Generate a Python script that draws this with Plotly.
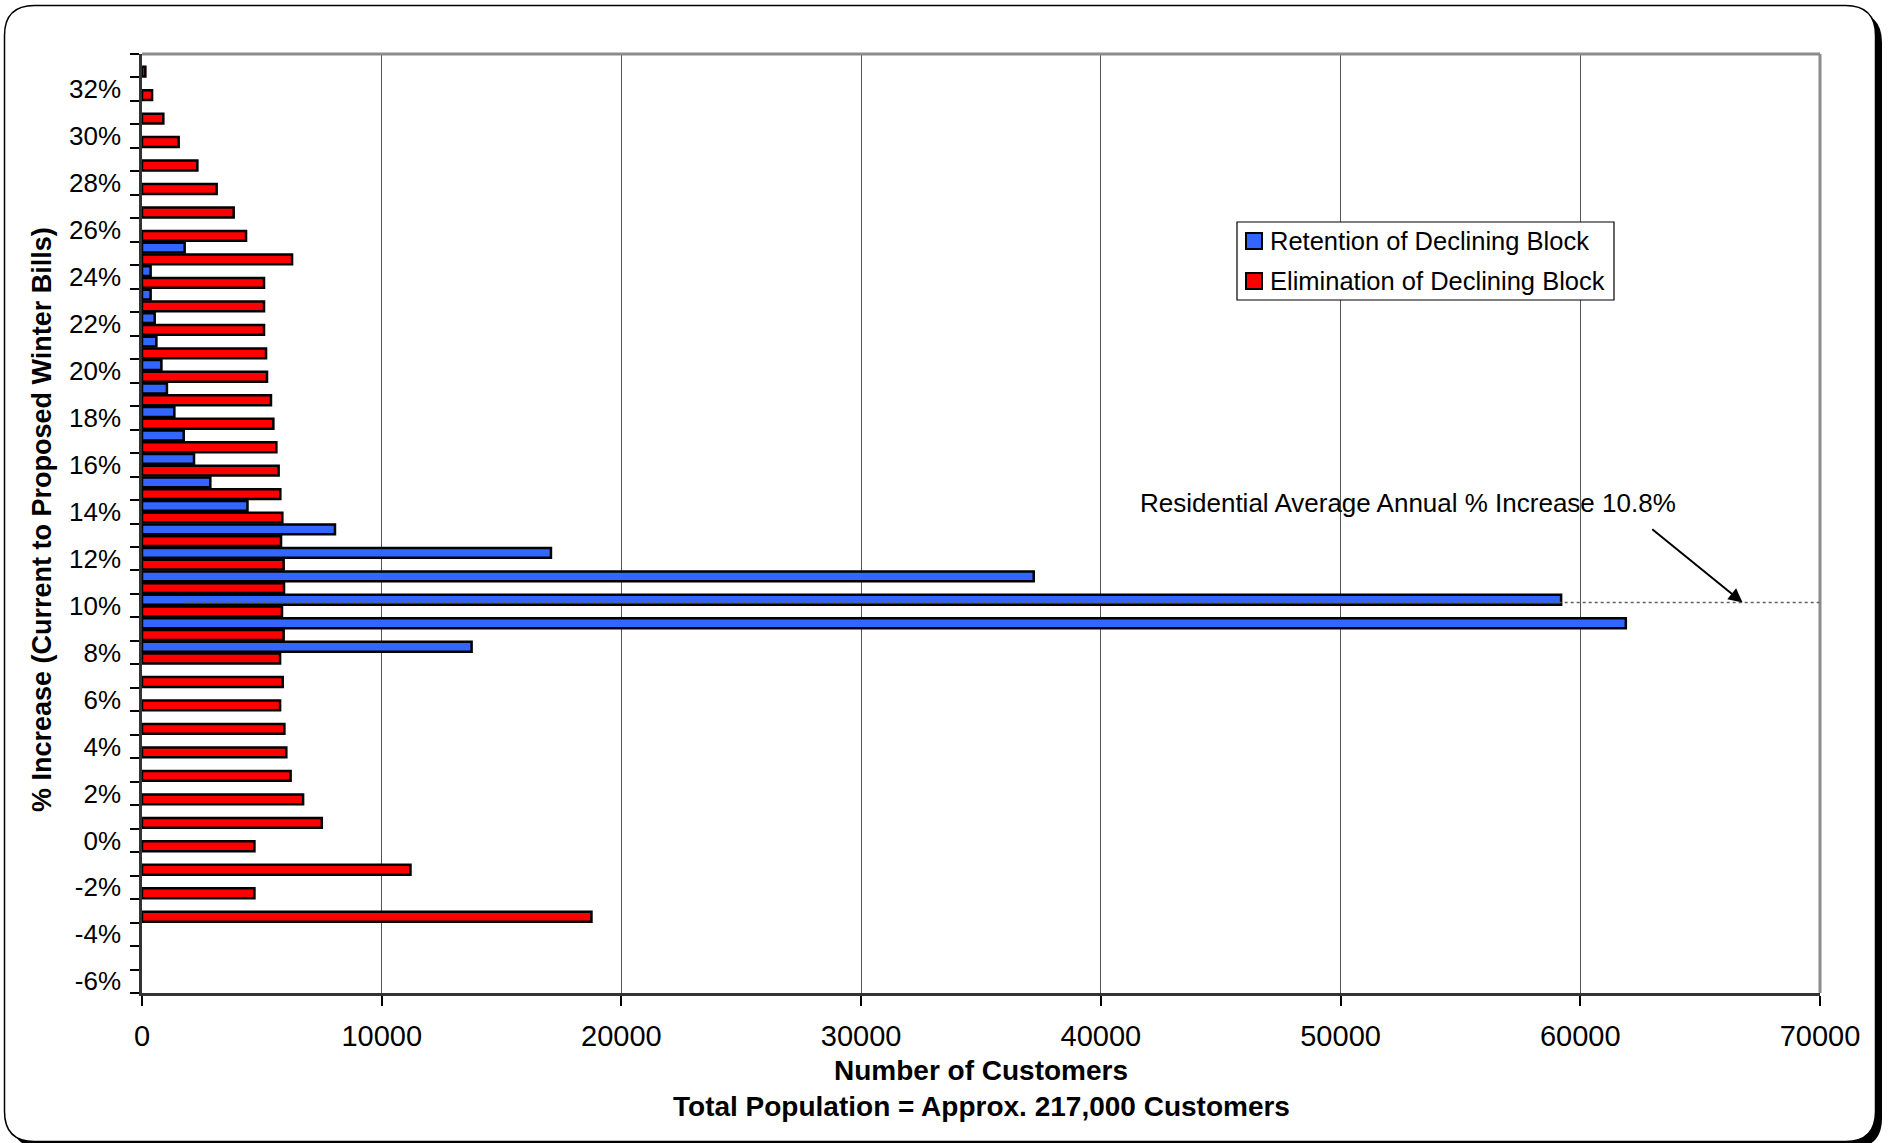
import plotly.graph_objects as go

# ---------------- data ----------------
categories = list(range(-6, 34))  # % increase categories (-6% .. 33%)
tick_vals = list(range(-6, 33, 2))
tick_text = [f"{v}%" for v in tick_vals]

# Retention of Declining Block (customers), aligned with categories
retention = [0, 0, 0, 0, 0, 0, 0, 0, 0, 0, 0, 0, 0, 0,
             13750, 61900, 59200, 37200, 17060, 8050, 4400, 2850, 2170, 1740,
             1350, 1040, 810, 600, 530, 360, 360, 1780,
             0, 0, 0, 0, 0, 0, 0, 0]
# Elimination of Declining Block (customers), aligned with categories
elimination = [0, 0, 0, 18750, 4690, 11200, 4690, 7500, 6720, 6200, 6020, 5940, 5760, 5870,
               5760, 5910, 5840, 5925, 5910, 5800, 5855, 5770, 5700, 5605,
               5480, 5380, 5215, 5175, 5090, 5090, 5090, 6260,
               4340, 3825, 3115, 2310, 1530, 890, 420, 140]

x_ticks = list(range(0, 70001, 10000))
avg_increase_level = 10.13   # position of the dotted reference line on the category scale
avg_line_start = 1780

series_names = ["Retention of Declining Block", "Elimination of Declining Block"]
colors = ["#3366FF", "#FF0000"]

FONT = "Liberation Sans, Arial, sans-serif"

# ---------------- geometry helpers ----------------
W, H = 1891, 1143
ML, MR, MT, MB = 142, 71, 54, 150
PW, PH = W - ML - MR, H - MT - MB


def px(x):
    return (x - ML) / PW


def py(y):
    return (H - MB - y) / PH


def rounded_path(x0, y0, x1, y1, r):
    pts = [
        ("M", (x0 + r, y0)), ("L", (x1 - r, y0)), ("Q", (x1, y0), (x1, y0 + r)),
        ("L", (x1, y1 - r)), ("Q", (x1, y1), (x1 - r, y1)), ("L", (x0 + r, y1)),
        ("Q", (x0, y1), (x0, y1 - r)), ("L", (x0, y0 + r)), ("Q", (x0, y0), (x0 + r, y0)),
    ]
    s = ""
    for item in pts:
        cmd = item[0]
        coords = " ".join(f"{px(a):.5f},{py(b):.5f}" for a, b in item[1:])
        s += f"{cmd} {coords} "
    return s + "Z"


def nz(vals):
    return [v if v else None for v in vals]


fig = go.Figure()
fig.add_trace(go.Bar(
    y=categories, x=nz(retention), orientation="h", name=series_names[0],
    marker=dict(color=colors[0], line=dict(color="black", width=2.5)),
    offset=0.04, width=0.42, showlegend=False,
))
fig.add_trace(go.Bar(
    y=categories, x=nz(elimination), orientation="h", name=series_names[1],
    marker=dict(color=colors[1], line=dict(color="black", width=2.5)),
    offset=-0.46, width=0.42, showlegend=False,
))

shapes = [
    # frame shadow + frame
    dict(type="path", xref="paper", yref="paper", layer="below",
         path=rounded_path(11.5, 12.5, 1882, 1148, 30),
         fillcolor="black", line=dict(color="black", width=0)),
    dict(type="path", xref="paper", yref="paper", layer="below",
         path=rounded_path(4.5, 5.5, 1875.5, 1141.5, 30),
         fillcolor="white", line=dict(color="black", width=1.5)),
    # plot area top and right border
    dict(type="line", xref="paper", yref="paper", x0=0, x1=1, y0=1, y1=1,
         line=dict(color="#8c8c8c", width=3), layer="above"),
    dict(type="line", xref="paper", yref="paper", x0=1, x1=1, y0=0, y1=1,
         line=dict(color="#8c8c8c", width=3), layer="above"),
    # dotted average line
    dict(type="line", xref="x", yref="y", x0=avg_line_start, x1=70000,
         y0=avg_increase_level, y1=avg_increase_level,
         line=dict(color="#606060", width=1.5, dash="dot"), layer="above"),
    # legend box
    dict(type="rect", xref="paper", yref="paper", layer="above",
         x0=px(1237), x1=px(1614), y0=py(222), y1=py(300),
         fillcolor="white", line=dict(color="black", width=1.2)),
]

annotations = [
    dict(text="Residential Average Annual % Increase 10.8%", x=52830, y=14.37,
         xref="x", yref="y", showarrow=False, xanchor="center", yanchor="middle",
         font=dict(family=FONT, size=26, color="black")),
    dict(text="", x=66770, y=avg_increase_level, xref="x", yref="y",
         ax=62940, ay=13.31, axref="x", ayref="y", showarrow=True,
         arrowhead=2, arrowsize=1.4, arrowwidth=2, arrowcolor="black"),
    dict(text="<b>% Increase (Current to Proposed Winter Bills)</b>", x=px(42), y=py(520),
         xref="paper", yref="paper", textangle=-90, showarrow=False,
         xanchor="center", yanchor="middle", font=dict(family=FONT, size=27, color="black")),
    dict(text="<b>Number of Customers</b>", x=px(981), y=py(1070),
         xref="paper", yref="paper", showarrow=False, xanchor="center", yanchor="middle",
         font=dict(family=FONT, size=28, color="black")),
    dict(text="<b>Total Population = Approx. 217,000 Customers</b>", x=px(981), y=py(1106),
         xref="paper", yref="paper", showarrow=False, xanchor="center", yanchor="middle",
         font=dict(family=FONT, size=28, color="black")),
]

# manual legend entries (swatch + text)
legend_rows = [241, 281]
for name, col, yc in zip(series_names, colors, legend_rows):
    shapes.append(dict(type="rect", xref="paper", yref="paper", layer="above",
                       x0=px(1246), x1=px(1262), y0=py(yc - 8), y1=py(yc + 8),
                       fillcolor=col, line=dict(color="black", width=2)))
    annotations.append(dict(text=name, x=px(1268), y=py(yc), xref="paper", yref="paper",
                            showarrow=False, xanchor="left", yanchor="middle",
                            font=dict(family=FONT, size=25.5, color="black")))

fig.update_layout(
    width=W, height=H,
    margin=dict(l=ML, r=MR, t=MT, b=MB, pad=0),
    paper_bgcolor="white", plot_bgcolor="white",
    barmode="overlay",
    font=dict(family=FONT, color="black"),
    shapes=shapes, annotations=annotations,
    showlegend=False,
    xaxis=dict(
        range=[0, 70000], tickvals=x_ticks, ticktext=[str(v) for v in x_ticks],
        showgrid=True, gridcolor="#555555", gridwidth=1,
        ticks="outside", ticklen=10, tickwidth=1.5, tickcolor="black",
        showline=True, linecolor="#333333", linewidth=2.5,
        zeroline=False, tickfont=dict(family=FONT, size=29, color="black"),
        ticklabelstandoff=5, fixedrange=True,
    ),
    yaxis=dict(
        range=[-6.5, 33.5], tickvals=tick_vals, ticktext=tick_text,
        ticks="", showgrid=False, zeroline=False,
        showline=True, linecolor="#333333", linewidth=2.5,
        tickfont=dict(family=FONT, size=26, color="black"),
        ticklabelstandoff=13,
        minor=dict(tickvals=[c + 0.5 for c in range(-7, 34)], ticks="outside",
                   ticklen=9, tickwidth=1.5, tickcolor="black", showgrid=False),
        fixedrange=True,
    ),
)

fig.write_html("out.html")
